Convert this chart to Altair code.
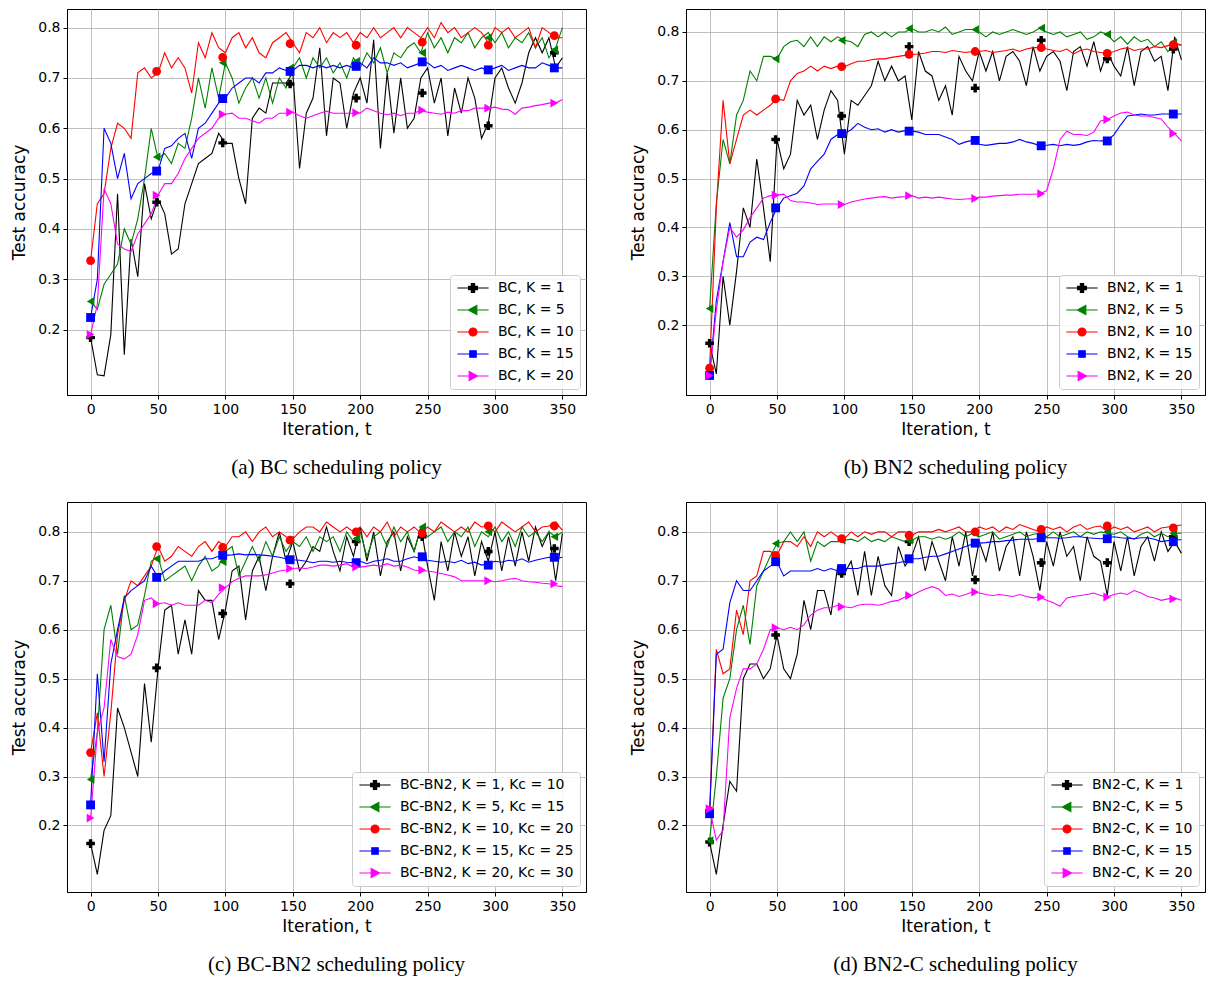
import altair as alt
import pandas as pd

# ---------------- shared values ----------------
ITER = list(range(0, 351, 5))
MARK_ITER = [0, 49, 98, 148, 197, 246, 295, 344]
K_KEYS = ["1", "5", "10", "15", "20"]
COLORS = ["#000000", "#008000", "#ff0000", "#0000ff", "#ff00ff"]
MARKER_SHAPES = ["cross", "triangle-left", "circle", "square", "triangle-right"]
MARKER_SIZES = [75, 80, 64, 42, 80]
LEGEND_PATHS = [
    "M-3.9,0H3.9M-1.1,-0.4H-0.4V-1.1H0.4V-0.4H1.1V0.4H0.4V1.1H-0.4V0.4H-1.1Z",
    "M-3.9,0H3.9M-1.15,0L0.95,-1.15L0.95,1.15Z",
    "M-3.9,0H3.9M-1,0A1,1,0,1,0,1,0A1,1,0,1,0,-1,0Z",
    "M-3.9,0H3.9M-0.8,-0.8H0.8V0.8H-0.8Z",
    "M-3.9,0H3.9M1.15,0L-0.95,-1.15L-0.95,1.15Z",
]
X_TICKS = [0, 50, 100, 150, 200, 250, 300, 350]
Y_TICKS = [0.2, 0.3, 0.4, 0.5, 0.6, 0.7, 0.8]

# ---------------- (a) BC ----------------
A_LABELS = ["BC, K = 1", "BC, K = 5", "BC, K = 10", "BC, K = 15", "BC, K = 20"]
A_K1 = [0.184, 0.11, 0.108, 0.19, 0.47, 0.15, 0.38, 0.305, 0.49, 0.42,
        0.46, 0.43, 0.35, 0.36, 0.45, 0.49, 0.53, 0.54, 0.55, 0.59,
        0.57, 0.57, 0.50, 0.45, 0.62, 0.64, 0.63, 0.69, 0.69, 0.69,
        0.71, 0.52, 0.63, 0.66, 0.76, 0.585, 0.70, 0.69, 0.60, 0.67,
        0.70, 0.65, 0.776, 0.56, 0.71, 0.59, 0.70, 0.60, 0.62, 0.70,
        0.72, 0.65, 0.70, 0.585, 0.68, 0.63, 0.70, 0.66, 0.58, 0.61,
        0.70, 0.72, 0.68, 0.65, 0.69, 0.75, 0.78, 0.75, 0.78, 0.72,
        0.74]
A_K5 = [0.256, 0.24, 0.29, 0.31, 0.33, 0.40, 0.37, 0.42, 0.50, 0.60,
        0.54, 0.55, 0.53, 0.57, 0.56, 0.62, 0.70, 0.64, 0.72, 0.66,
        0.73, 0.70, 0.65, 0.68, 0.70, 0.66, 0.70, 0.65, 0.70, 0.68,
        0.72, 0.74, 0.70, 0.74, 0.72, 0.74, 0.71, 0.73, 0.70, 0.74,
        0.72, 0.75, 0.73, 0.76, 0.71, 0.75, 0.74, 0.76, 0.77, 0.75,
        0.79, 0.76, 0.78, 0.75, 0.78, 0.77, 0.79, 0.76, 0.78, 0.79,
        0.77, 0.79, 0.76, 0.78, 0.77, 0.79, 0.76, 0.78, 0.74, 0.76,
        0.80]
A_K10 = [0.337, 0.45, 0.47, 0.56, 0.61, 0.60, 0.58, 0.71, 0.72, 0.70,
         0.71, 0.75, 0.72, 0.74, 0.72, 0.67, 0.77, 0.74, 0.79, 0.76,
         0.75, 0.78, 0.79, 0.76, 0.78, 0.75, 0.74, 0.77, 0.78, 0.79,
         0.77, 0.75, 0.79, 0.78, 0.80, 0.77, 0.79, 0.78, 0.79, 0.77,
         0.79, 0.78, 0.80, 0.78, 0.79, 0.80, 0.78, 0.80, 0.79, 0.78,
         0.80, 0.78, 0.81, 0.79, 0.80, 0.78, 0.79, 0.80, 0.79, 0.77,
         0.80, 0.79, 0.80, 0.78, 0.79, 0.80, 0.76, 0.80, 0.79, 0.78,
         0.78]
A_K15 = [0.224, 0.30, 0.60, 0.57, 0.50, 0.55, 0.46, 0.49, 0.50, 0.51,
         0.515, 0.56, 0.565, 0.58, 0.59, 0.54, 0.60, 0.61, 0.63, 0.65,
         0.66, 0.68, 0.69, 0.70, 0.70, 0.69, 0.71, 0.71, 0.72, 0.715,
         0.715, 0.725, 0.725, 0.72, 0.725, 0.72, 0.725, 0.72, 0.725, 0.72,
         0.73, 0.72, 0.74, 0.73, 0.73, 0.725, 0.73, 0.72, 0.725, 0.73,
         0.73, 0.72, 0.725, 0.715, 0.72, 0.725, 0.72, 0.715, 0.72, 0.715,
         0.72, 0.725, 0.715, 0.72, 0.725, 0.72, 0.72, 0.73, 0.725, 0.72,
         0.72]
A_K20 = [0.19, 0.25, 0.48, 0.45, 0.37, 0.36, 0.355, 0.39, 0.41, 0.43,
         0.467, 0.49, 0.49, 0.51, 0.54, 0.56, 0.58, 0.59, 0.60, 0.62,
         0.628, 0.63, 0.62, 0.62, 0.615, 0.61, 0.62, 0.62, 0.63, 0.63,
         0.632, 0.625, 0.62, 0.625, 0.63, 0.634, 0.63, 0.63, 0.63, 0.63,
         0.63, 0.64, 0.635, 0.63, 0.627, 0.63, 0.625, 0.63, 0.63, 0.636,
         0.632, 0.63, 0.628, 0.632, 0.63, 0.635, 0.635, 0.64, 0.64, 0.64,
         0.642, 0.638, 0.637, 0.628, 0.64, 0.642, 0.645, 0.647, 0.65, 0.65,
         0.657]
A_M1 = [0.184, 0.453, 0.571, 0.688, 0.66, 0.67, 0.605, 0.75]
A_M5 = [0.256, 0.543, 0.73, 0.72, 0.733, 0.75, 0.78, 0.756]
A_M10 = [0.337, 0.713, 0.741, 0.768, 0.765, 0.771, 0.765, 0.784]
A_M15 = [0.224, 0.515, 0.659, 0.713, 0.723, 0.732, 0.716, 0.72]
A_M20 = [0.19, 0.467, 0.628, 0.632, 0.631, 0.636, 0.64, 0.65]

# ---------------- (b) BN2 ----------------
B_LABELS = ["BN2, K = 1", "BN2, K = 5", "BN2, K = 10", "BN2, K = 15", "BN2, K = 20"]
B_K1 = [0.163, 0.10, 0.30, 0.20, 0.31, 0.44, 0.40, 0.54, 0.44, 0.33,
        0.58, 0.52, 0.55, 0.66, 0.63, 0.65, 0.58, 0.64, 0.68, 0.66,
        0.55, 0.66, 0.65, 0.67, 0.69, 0.74, 0.70, 0.73, 0.70, 0.71,
        0.62, 0.76, 0.72, 0.71, 0.66, 0.69, 0.63, 0.75, 0.72, 0.70,
        0.76, 0.72, 0.76, 0.70, 0.75, 0.76, 0.74, 0.69, 0.77, 0.72,
        0.75, 0.76, 0.74, 0.68, 0.76, 0.77, 0.73, 0.78, 0.72, 0.76,
        0.73, 0.71, 0.77, 0.69, 0.76, 0.77, 0.74, 0.75, 0.68, 0.79,
        0.743]
B_K5 = [0.234, 0.45, 0.58, 0.53, 0.63, 0.66, 0.72, 0.70, 0.75, 0.75,
        0.745, 0.77, 0.78, 0.783, 0.77, 0.79, 0.77, 0.79, 0.78, 0.79,
        0.783, 0.78, 0.77, 0.795, 0.80, 0.79, 0.80, 0.79, 0.80, 0.80,
        0.807, 0.80, 0.80, 0.805, 0.80, 0.81, 0.795, 0.80, 0.805, 0.805,
        0.80, 0.79, 0.80, 0.795, 0.80, 0.805, 0.80, 0.795, 0.80, 0.808,
        0.80, 0.795, 0.80, 0.79, 0.795, 0.80, 0.785, 0.79, 0.80, 0.795,
        0.78, 0.79, 0.775, 0.79, 0.78, 0.785, 0.77, 0.78, 0.76, 0.778,
        0.773]
B_K10 = [0.112, 0.44, 0.66, 0.53, 0.58, 0.63, 0.64, 0.63, 0.64, 0.65,
         0.663, 0.66, 0.70, 0.715, 0.72, 0.73, 0.72, 0.73, 0.725, 0.73,
         0.729, 0.735, 0.74, 0.74, 0.743, 0.745, 0.745, 0.748, 0.75, 0.752,
         0.754, 0.755, 0.757, 0.76, 0.76, 0.758, 0.762, 0.76, 0.758, 0.76,
         0.76, 0.762, 0.758, 0.76, 0.762, 0.765, 0.76, 0.765, 0.768, 0.768,
         0.765, 0.762, 0.76, 0.765, 0.755, 0.762, 0.765, 0.76, 0.758, 0.756,
         0.76, 0.765, 0.768, 0.762, 0.765, 0.765, 0.77, 0.768, 0.772, 0.775,
         0.773]
B_K15 = [0.097, 0.25, 0.33, 0.41, 0.34, 0.34, 0.37, 0.38, 0.375, 0.41,
         0.44, 0.46, 0.465, 0.47, 0.485, 0.52, 0.535, 0.55, 0.58, 0.59,
         0.592, 0.60, 0.613, 0.605, 0.60, 0.602, 0.595, 0.60, 0.595, 0.598,
         0.597, 0.595, 0.59, 0.59, 0.59, 0.585, 0.58, 0.57, 0.575, 0.578,
         0.57, 0.568, 0.57, 0.572, 0.572, 0.575, 0.58, 0.575, 0.572, 0.567,
         0.568, 0.57, 0.567, 0.57, 0.568, 0.57, 0.575, 0.578, 0.577, 0.577,
         0.59, 0.61, 0.628, 0.63, 0.632, 0.63, 0.63, 0.632, 0.632, 0.632,
         0.632]
B_K20 = [0.097, 0.23, 0.33, 0.40, 0.38, 0.395, 0.42, 0.44, 0.46, 0.465,
         0.466, 0.468, 0.455, 0.452, 0.452, 0.45, 0.447, 0.448, 0.448, 0.448,
         0.447, 0.452, 0.455, 0.458, 0.46, 0.462, 0.463, 0.46, 0.462, 0.463,
         0.465, 0.46, 0.462, 0.46, 0.462, 0.46, 0.458, 0.457, 0.458, 0.459,
         0.462, 0.462, 0.464, 0.465, 0.466, 0.466, 0.468, 0.468, 0.468, 0.469,
         0.475, 0.52, 0.58, 0.597, 0.59, 0.59, 0.588, 0.595, 0.618, 0.621,
         0.628, 0.634, 0.636, 0.63, 0.628, 0.628, 0.625, 0.622, 0.605, 0.592,
         0.577]
B_M1 = [0.163, 0.58, 0.628, 0.77, 0.685, 0.783, 0.745, 0.765]
B_M5 = [0.234, 0.745, 0.783, 0.807, 0.805, 0.808, 0.795, 0.778]
B_M10 = [0.112, 0.663, 0.729, 0.754, 0.76, 0.768, 0.756, 0.774]
B_M15 = [0.097, 0.44, 0.592, 0.597, 0.578, 0.567, 0.577, 0.632]
B_M20 = [0.097, 0.466, 0.447, 0.465, 0.459, 0.469, 0.621, 0.592]

# ---------------- (c) BC-BN2 ----------------
C_LABELS = ["BC-BN2, K = 1, Kc = 10", "BC-BN2, K = 5, Kc = 15", "BC-BN2, K = 10, Kc = 20",
            "BC-BN2, K = 15, Kc = 25", "BC-BN2, K = 20, Kc = 30"]
C_K1 = [0.163, 0.10, 0.19, 0.22, 0.44, 0.40, 0.35, 0.30, 0.49, 0.37,
        0.52, 0.64, 0.65, 0.55, 0.62, 0.55, 0.68, 0.66, 0.66, 0.58,
        0.64, 0.72, 0.73, 0.62, 0.72, 0.75, 0.68, 0.75, 0.80, 0.74,
        0.78, 0.72, 0.74, 0.77, 0.76, 0.81, 0.76, 0.72, 0.79, 0.75,
        0.81, 0.74, 0.80, 0.71, 0.78, 0.80, 0.72, 0.79, 0.76, 0.81,
        0.73, 0.66, 0.78, 0.72, 0.80, 0.75, 0.79, 0.71, 0.78, 0.74,
        0.80, 0.72, 0.79, 0.73, 0.80, 0.74, 0.81, 0.77, 0.80, 0.70,
        0.797]
C_K5 = [0.294, 0.39, 0.60, 0.65, 0.55, 0.67, 0.60, 0.61, 0.67, 0.74,
        0.75, 0.70, 0.71, 0.72, 0.73, 0.70, 0.73, 0.75, 0.72, 0.73,
        0.76, 0.77, 0.71, 0.74, 0.77, 0.74, 0.78, 0.75, 0.79, 0.76,
        0.78, 0.77, 0.79, 0.76, 0.79, 0.78, 0.79, 0.76, 0.80, 0.78,
        0.80, 0.75, 0.79, 0.80, 0.77, 0.81, 0.78, 0.80, 0.76, 0.81,
        0.79, 0.80, 0.81, 0.78, 0.80, 0.79, 0.81, 0.77, 0.80, 0.79,
        0.81, 0.78, 0.80, 0.77, 0.81, 0.79, 0.80, 0.78, 0.80, 0.79,
        0.80]
C_K10 = [0.349, 0.43, 0.30, 0.43, 0.59, 0.66, 0.70, 0.69, 0.71, 0.73,
         0.77, 0.74, 0.75, 0.77, 0.76, 0.75, 0.77, 0.78, 0.76, 0.78,
         0.77, 0.79, 0.79, 0.80, 0.78, 0.80, 0.81, 0.79, 0.80, 0.79,
         0.785, 0.80, 0.81, 0.81, 0.80, 0.82, 0.81, 0.80, 0.81, 0.80,
         0.81, 0.79, 0.81, 0.80, 0.82, 0.79, 0.81, 0.80, 0.81, 0.797,
         0.81, 0.80, 0.82, 0.81, 0.80, 0.81, 0.80, 0.82, 0.81, 0.812,
         0.80, 0.82, 0.81, 0.80, 0.81, 0.82, 0.80, 0.81, 0.812, 0.82,
         0.803]
C_K15 = [0.242, 0.51, 0.33, 0.53, 0.60, 0.665, 0.68, 0.69, 0.70, 0.73,
         0.707, 0.72, 0.73, 0.74, 0.74, 0.74, 0.74, 0.745, 0.745, 0.75,
         0.752, 0.753, 0.755, 0.753, 0.754, 0.753, 0.752, 0.75, 0.748, 0.745,
         0.743, 0.742, 0.74, 0.737, 0.74, 0.74, 0.738, 0.74, 0.738, 0.737,
         0.74, 0.735, 0.74, 0.742, 0.745, 0.74, 0.74, 0.745, 0.749, 0.745,
         0.742, 0.74, 0.738, 0.74, 0.737, 0.742, 0.735, 0.738, 0.732, 0.735,
         0.74, 0.738, 0.742, 0.74, 0.745, 0.738, 0.742, 0.745, 0.748, 0.745,
         0.748]
C_K20 = [0.215, 0.39, 0.44, 0.58, 0.545, 0.54, 0.55, 0.59, 0.66, 0.665,
         0.653, 0.655, 0.65, 0.655, 0.65, 0.65, 0.65, 0.66, 0.655, 0.672,
         0.686, 0.698, 0.705, 0.71, 0.71, 0.71, 0.712, 0.716, 0.72, 0.722,
         0.725, 0.726, 0.725, 0.728, 0.732, 0.732, 0.73, 0.732, 0.735, 0.728,
         0.728, 0.73, 0.732, 0.73, 0.735, 0.73, 0.732, 0.728, 0.722, 0.72,
         0.72, 0.718, 0.715, 0.712, 0.708, 0.70, 0.70, 0.70, 0.70, 0.70,
         0.698, 0.70, 0.703, 0.705, 0.70, 0.698, 0.697, 0.695, 0.694, 0.69,
         0.688]
C_M1 = [0.163, 0.522, 0.633, 0.694, 0.78, 0.79, 0.76, 0.766]
C_M5 = [0.294, 0.745, 0.739, 0.783, 0.786, 0.81, 0.80, 0.79]
C_M10 = [0.349, 0.77, 0.768, 0.783, 0.80, 0.797, 0.812, 0.812]
C_M15 = [0.242, 0.707, 0.752, 0.743, 0.737, 0.749, 0.732, 0.748]
C_M20 = [0.215, 0.653, 0.686, 0.725, 0.728, 0.722, 0.70, 0.694]

# ---------------- (d) BN2-C ----------------
D_LABELS = ["BN2-C, K = 1", "BN2-C, K = 5", "BN2-C, K = 10", "BN2-C, K = 15", "BN2-C, K = 20"]
D_K1 = [0.166, 0.10, 0.20, 0.29, 0.27, 0.50, 0.53, 0.53, 0.50, 0.52,
        0.589, 0.52, 0.50, 0.55, 0.66, 0.60, 0.68, 0.68, 0.63, 0.73,
        0.715, 0.74, 0.67, 0.76, 0.67, 0.75, 0.69, 0.67, 0.77, 0.73,
        0.75, 0.79, 0.72, 0.78, 0.74, 0.70, 0.79, 0.73, 0.80, 0.71,
        0.78, 0.74, 0.80, 0.72, 0.77, 0.79, 0.71, 0.80, 0.75, 0.68,
        0.78, 0.73, 0.80, 0.75, 0.77, 0.70, 0.79, 0.75, 0.74, 0.67,
        0.78, 0.72, 0.79, 0.71, 0.77, 0.79, 0.74, 0.80, 0.76, 0.78,
        0.756]
D_K5 = [0.169, 0.30, 0.46, 0.50, 0.60, 0.65, 0.57, 0.69, 0.72, 0.75,
        0.776, 0.78, 0.80, 0.78, 0.80, 0.74, 0.78, 0.77, 0.78, 0.78,
        0.783, 0.785, 0.78, 0.79, 0.78, 0.785, 0.78, 0.79, 0.785, 0.78,
        0.783, 0.79, 0.79, 0.785, 0.79, 0.785, 0.79, 0.80, 0.79, 0.797,
        0.79, 0.795, 0.80, 0.785, 0.79, 0.795, 0.80, 0.79, 0.795, 0.797,
        0.79, 0.80, 0.79, 0.795, 0.80, 0.79, 0.80, 0.795, 0.80, 0.797,
        0.795, 0.80, 0.79, 0.785, 0.795, 0.80, 0.79, 0.797, 0.79, 0.797,
        0.797]
D_K10 = [0.23, 0.56, 0.51, 0.52, 0.64, 0.59, 0.70, 0.71, 0.76, 0.76,
         0.752, 0.78, 0.78, 0.77, 0.79, 0.77, 0.80, 0.79, 0.80, 0.79,
         0.786, 0.80, 0.79, 0.80, 0.795, 0.80, 0.80, 0.79, 0.80, 0.80,
         0.793, 0.80, 0.80, 0.80, 0.805, 0.80, 0.805, 0.81, 0.80, 0.80,
         0.81, 0.805, 0.81, 0.80, 0.81, 0.805, 0.815, 0.81, 0.805, 0.80,
         0.81, 0.805, 0.81, 0.80, 0.81, 0.815, 0.805, 0.81, 0.812, 0.80,
         0.81, 0.805, 0.81, 0.80, 0.805, 0.81, 0.80, 0.808, 0.81, 0.812,
         0.814]
D_K15 = [0.224, 0.55, 0.56, 0.655, 0.70, 0.68, 0.68, 0.70, 0.72, 0.73,
         0.739, 0.71, 0.72, 0.72, 0.72, 0.72, 0.725, 0.72, 0.725, 0.72,
         0.725, 0.725, 0.725, 0.73, 0.73, 0.73, 0.733, 0.735, 0.737, 0.74,
         0.745, 0.745, 0.748, 0.75, 0.75, 0.755, 0.76, 0.765, 0.77, 0.775,
         0.777, 0.778, 0.78, 0.78, 0.782, 0.783, 0.785, 0.785, 0.785, 0.787,
         0.788, 0.788, 0.787, 0.788, 0.79, 0.79, 0.788, 0.787, 0.786, 0.788,
         0.79, 0.788, 0.787, 0.786, 0.788, 0.788, 0.785, 0.78, 0.782, 0.784,
         0.784]
D_K20 = [0.234, 0.17, 0.19, 0.42, 0.48, 0.52, 0.52, 0.53, 0.56, 0.60,
         0.604, 0.60, 0.605, 0.60, 0.61, 0.63, 0.64, 0.645, 0.645, 0.65,
         0.647, 0.645, 0.65, 0.652, 0.652, 0.65, 0.653, 0.658, 0.66, 0.667,
         0.67, 0.677, 0.683, 0.688, 0.683, 0.67, 0.673, 0.668, 0.672, 0.677,
         0.675, 0.672, 0.67, 0.672, 0.67, 0.668, 0.672, 0.668, 0.665, 0.667,
         0.66, 0.655, 0.648, 0.665, 0.668, 0.67, 0.672, 0.675, 0.67, 0.667,
         0.672, 0.675, 0.672, 0.68, 0.675, 0.668, 0.665, 0.66, 0.663, 0.665,
         0.66]
D_M1 = [0.166, 0.589, 0.715, 0.78, 0.702, 0.737, 0.737, 0.79]
D_M5 = [0.169, 0.776, 0.783, 0.783, 0.797, 0.797, 0.80, 0.797]
D_M10 = [0.23, 0.752, 0.786, 0.793, 0.80, 0.805, 0.812, 0.808]
D_M15 = [0.224, 0.739, 0.725, 0.745, 0.777, 0.788, 0.786, 0.78]
D_M20 = [0.234, 0.604, 0.647, 0.67, 0.677, 0.667, 0.667, 0.663]

PANEL_W = 519
X_DOMAIN = [-17.5, 367.5]


def make_panel(labels, series, marks, ydomain, caption, height):
    for s in series:
        assert len(s) == len(ITER), (caption, len(s))
    for m in marks:
        assert len(m) == len(MARK_ITER), (caption, len(m))

    line_rows, mark_rows, leg_rows = [], [], []
    for i, (key, vals, mvals) in enumerate(zip(K_KEYS, series, marks)):
        for t, v in zip(ITER, vals):
            line_rows.append({"t": t, "acc": v, "k": key, "o": i})
        for t, v in zip(MARK_ITER, mvals):
            mark_rows.append({"t": t, "acc": v, "k": key, "o": i})
        leg_rows.append({"t": 0, "acc": None, "label": labels[i]})
    line_df = pd.DataFrame(line_rows)
    mark_df = pd.DataFrame(mark_rows)
    leg_df = pd.DataFrame(leg_rows)

    x = alt.X("t:Q", scale=alt.Scale(domain=X_DOMAIN, nice=False, zero=False),
              axis=alt.Axis(values=X_TICKS, title="Iteration, t", titlePadding=5))
    y = alt.Y("acc:Q", scale=alt.Scale(domain=ydomain, nice=False, zero=False),
              axis=alt.Axis(values=Y_TICKS, format=".1f", title="Test accuracy", titlePadding=9))
    color = alt.Color("k:N", scale=alt.Scale(domain=K_KEYS, range=COLORS), legend=None)

    lines = alt.Chart(line_df).mark_line(strokeWidth=1.1, clip=True).encode(
        x=x, y=y, color=color)
    points = alt.Chart(mark_df).mark_point(filled=True, opacity=1, clip=True).encode(
        x=x, y=y, color=color,
        shape=alt.Shape("k:N", scale=alt.Scale(domain=K_KEYS, range=MARKER_SHAPES), legend=None),
        size=alt.Size("k:N", scale=alt.Scale(domain=K_KEYS, range=MARKER_SIZES), legend=None),
        order=alt.Order("o:Q"))

    leg = alt.Legend(title=None, orient="bottom-right", offset=6, padding=6,
                     fillColor="rgba(255,255,255,0.85)", strokeColor="#cccccc",
                     cornerRadius=3, labelFont="DejaVu Sans", labelFontSize=14,
                     labelColor="black", labelLimit=400, symbolSize=64,
                     symbolStrokeWidth=1.2, symbolOffset=10, labelOffset=18,
                     symbolOpacity=1, rowPadding=8)
    dummy = alt.Chart(leg_df).mark_point(filled=True, opacity=1, clip=True).encode(
        x=x, y=y,
        fill=alt.Fill("label:N", scale=alt.Scale(domain=labels, range=COLORS), legend=leg),
        stroke=alt.Stroke("label:N", scale=alt.Scale(domain=labels, range=COLORS), legend=leg),
        shape=alt.Shape("label:N", scale=alt.Scale(domain=labels, range=LEGEND_PATHS), legend=leg))

    return alt.layer(lines, points, dummy).resolve_scale(
        fill="independent", stroke="independent", shape="independent"
    ).properties(
        width=PANEL_W, height=height,
        title=alt.TitleParams(text=caption, orient="bottom", anchor="middle",
                              font="Liberation Serif", fontSize=21, fontWeight="normal",
                              color="black", offset=20, dx=10))


pa = make_panel(A_LABELS, [A_K1, A_K5, A_K10, A_K15, A_K20],
                [A_M1, A_M5, A_M10, A_M15, A_M20], [0.07, 0.837], "(a) BC scheduling policy", 386)
pb = make_panel(B_LABELS, [B_K1, B_K5, B_K10, B_K15, B_K20],
                [B_M1, B_M5, B_M10, B_M15, B_M20], [0.057, 0.847], "(b) BN2 scheduling policy", 386)
pc = make_panel(C_LABELS, [C_K1, C_K5, C_K10, C_K15, C_K20],
                [C_M1, C_M5, C_M10, C_M15, C_M20], [0.064, 0.861], "(c) BC-BN2 scheduling policy", 390)
pd_ = make_panel(D_LABELS, [D_K1, D_K5, D_K10, D_K15, D_K20],
                 [D_M1, D_M5, D_M10, D_M15, D_M20], [0.064, 0.861], "(d) BN2-C scheduling policy", 390)

row1 = alt.hconcat(pa, pb, spacing=42)
row2 = alt.hconcat(pc, pd_, spacing=42)
chart = alt.vconcat(row1, row2, spacing=22).properties(
    padding={"left": 2, "top": 0, "right": 0, "bottom": 0}
).configure_view(
    stroke="black", strokeWidth=1
).configure_axis(
    domainColor="black", domainWidth=1, tickColor="black", tickSize=4, tickWidth=1,
    labelFont="DejaVu Sans", labelFontSize=14, labelColor="black", labelPadding=3,
    titleFont="DejaVu Sans", titleFontSize=17, titleFontWeight="normal", titleColor="black",
    gridColor="#b0b0b0", gridWidth=0.8
)

chart.save("out.html", embed_options={"renderer": "svg", "actions": False})
